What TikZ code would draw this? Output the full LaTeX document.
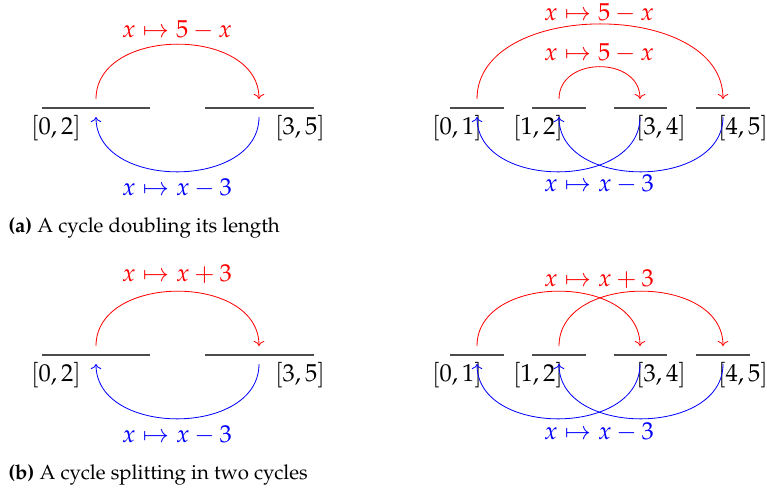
\documentclass[tikz,border=0pt]{standalone}
\usepackage[T1]{fontenc}
\usepackage{mathpazo}
\usetikzlibrary{arrows.meta,positioning}

\begin{document}
\begin{tikzpicture}[x=0.49pt, y=-0.49pt,
  seg/.style={black!70, semithick},
  fwd/.style={->, red},
  back/.style={->, blue},
  lbl/.style={inner sep=1pt, font=\large},
  subcap/.style={anchor=west, inner sep=0pt}
]
\useasboundingbox (0,0) rectangle (767,494);

% (a) left: [0,2] and [3,5]
\draw[seg] (42,108) -- (150,108);
\draw[seg] (205,108) -- (314,108);
\coordinate (t02a) at (96,99);   \coordinate (b02a) at (96,117);
\coordinate (t35a) at (259,99);  \coordinate (b35a) at (259,117);
\node[lbl] (i02a) at (56,128) {$[0,2]$};
\node[lbl] (i35a) at (300,128) {$[3,5]$};
\draw[fwd] (t02a) .. controls +(0,-73) and +(0,-73) .. (t35a);
\draw[back] (b35a) .. controls +(0,73) and +(0,73) .. (b02a);
\node[lbl, red] (fa) at (177,30) {$x \mapsto 5 - x$};
\node[lbl, blue] (ga) at (177,188) {$x \mapsto x - 3$};

% (a) right: four halves
\draw[seg] (450,108) -- (504,108);
\draw[seg] (532,108) -- (586,108);
\draw[seg] (614,108) -- (667,108);
\draw[seg] (696,108) -- (750,108);
\coordinate (t01a) at (477,99);  \coordinate (b01a) at (477,117);
\coordinate (t12a) at (559,99);  \coordinate (b12a) at (559,117);
\coordinate (t34a) at (640,99);  \coordinate (b34a) at (640,117);
\coordinate (t45a) at (723,99);  \coordinate (b45a) at (723,117);
\node[lbl] (i01a) at (457,128) {$[0,1]$};
\node[lbl] (i12a) at (538,128) {$[1,2]$};
\node[lbl] (i34a) at (661,128) {$[3,4]$};
\node[lbl] (i45a) at (743,128) {$[4,5]$};
\draw[fwd] (t01a) .. controls +(0,-100) and +(0,-100) .. (t45a);
\draw[fwd] (t12a) .. controls +(0,-43) and +(0,-43) .. (t34a);
\draw[back] (b34a) .. controls +(0,73) and +(0,73) .. (b01a);
\draw[back] (b45a) .. controls +(0,73) and +(0,73) .. (b12a);
\node[lbl, red, inner sep=0pt] (fa1) at (599,13) {$x \mapsto 5 - x$};
\node[lbl, red] (fa2) at (599,53) {$x \mapsto 5 - x$};
\node[lbl, blue] (ga2) at (599,184) {$x \mapsto x - 3$};

\node[subcap] (capa) at (8,228) {\textbf{(a)} A cycle doubling its length};

% (b) left: [0,2] and [3,5]
\draw[seg] (42,355) -- (150,355);
\draw[seg] (205,355) -- (314,355);
\coordinate (t02b) at (96,346);   \coordinate (b02b) at (96,364);
\coordinate (t35b) at (259,346);  \coordinate (b35b) at (259,364);
\node[lbl] (i02b) at (56,375) {$[0,2]$};
\node[lbl] (i35b) at (300,375) {$[3,5]$};
\draw[fwd] (t02b) .. controls +(0,-73) and +(0,-73) .. (t35b);
\draw[back] (b35b) .. controls +(0,73) and +(0,73) .. (b02b);
\node[lbl, red] (fb) at (177,274) {$x \mapsto x + 3$};
\node[lbl, blue] (gb) at (177,435) {$x \mapsto x - 3$};

% (b) right: two separate cycles
\draw[seg] (450,355) -- (504,355);
\draw[seg] (532,355) -- (586,355);
\draw[seg] (614,355) -- (667,355);
\draw[seg] (696,355) -- (750,355);
\coordinate (t01b) at (477,346);  \coordinate (b01b) at (477,364);
\coordinate (t12b) at (559,346);  \coordinate (b12b) at (559,364);
\coordinate (t34b) at (640,346);  \coordinate (b34b) at (640,364);
\coordinate (t45b) at (723,346);  \coordinate (b45b) at (723,364);
\node[lbl] (i01b) at (457,375) {$[0,1]$};
\node[lbl] (i12b) at (538,375) {$[1,2]$};
\node[lbl] (i34b) at (661,375) {$[3,4]$};
\node[lbl] (i45b) at (743,375) {$[4,5]$};
\draw[fwd] (t01b) .. controls +(0,-73) and +(0,-73) .. (t34b);
\draw[fwd] (t12b) .. controls +(0,-73) and +(0,-73) .. (t45b);
\draw[back] (b34b) .. controls +(0,73) and +(0,73) .. (b01b);
\draw[back] (b45b) .. controls +(0,73) and +(0,73) .. (b12b);
\node[lbl, red] (fb2) at (599,279) {$x \mapsto x + 3$};
\node[lbl, blue] (gb2) at (599,432) {$x \mapsto x - 3$};

\node[subcap] (capb) at (8,475) {\textbf{(b)} A cycle splitting in two cycles};
\end{tikzpicture}
\end{document}
